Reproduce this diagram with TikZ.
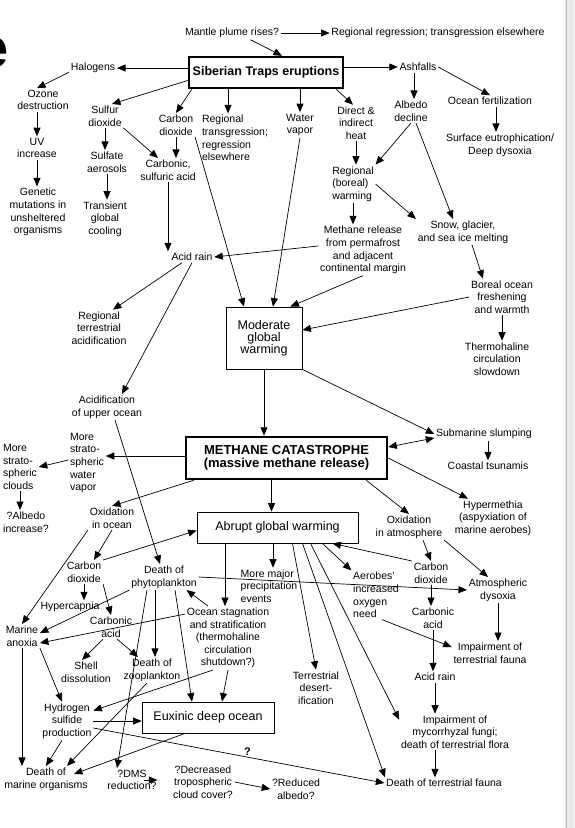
\documentclass[tikz,border=0pt]{standalone}
\usepackage{fontspec}
\setmainfont{Liberation Sans}
\usetikzlibrary{arrows.meta}
\begin{document}
\begin{tikzpicture}[x=1pt, y=-1pt, >={Triangle[length=8.5pt,width=7pt]}, line width=0.7pt,
  every node/.style={font=\fontsize{10.5}{12.6}\selectfont, align=center, inner sep=1.5pt},
  lft/.style={align=left},
  stepbox/.style={draw, line width=0.8pt, font=\fontsize{12.5}{12}\selectfont, inner sep=2pt},
  keybox/.style={draw, line width=2.5pt, font=\fontsize{12.5}{13}\selectfont\bfseries, inner sep=2pt}]
\useasboundingbox (0,0) rectangle (574,828);
\fill[white] (0,0) rectangle (574,828);
\fill[gray!18] (565,0) rectangle (574,828);
\draw[gray!50, line width=1pt] (566,0) -- (566,828);
\node[anchor=east, inner sep=0pt, font=\fontsize{56}{56}\selectfont\bfseries] (title) at (9,53) {e};
\node (mantle) at (232,33) {Mantle plume rises?};
\node (regress) at (438,33) {Regional regression; transgression elsewhere};
\node[keybox, minimum width=154pt, minimum height=31pt] (sib) at (266,72.5) {Siberian Traps eruptions};
\node (halo) at (93,68) {Halogens};
\node (ozone) at (43,100) {Ozone\\destruction};
\node (uv) at (37,148) {UV\\increase};
\node (genetic) at (38,212) {Genetic\\mutations in\\unsheltered\\organisms};
\node (so2) at (105,116) {Sulfur\\dioxide};
\node (sulfate) at (107,162) {Sulfate\\aerosols};
\node (cooling) at (105,219) {Transient\\global\\cooling};
\node (co2) at (176,125) {Carbon\\dioxide};
\node[lft] (transg) at (235,138) {Regional\\transgression;\\regression\\elsewhere};
\node (water) at (300,125) {Water\\vapor};
\node (heat) at (356,123) {Direct \&\\indirect\\heat};
\node (ash) at (418,67) {Ashfalls};
\node (albedo) at (411,111) {Albedo\\decline};
\node (fert) at (490,101) {Ocean fertilization};
\node (eutro) at (500,145) {Surface eutrophication/\\Deep dysoxia};
\node[lft] (boreal) at (353,184) {Regional\\(boreal)\\warming};
\node (snow) at (463,232) {Snow, glacier,\\and sea ice melting};
\node (carbsulf) at (168,170) {Carbonic,\\sulfuric acid};
\node (methrel) at (363,250) {Methane release\\from permafrost\\and adjacent\\continental margin};
\node (boreo) at (502,297) {Boreal ocean\\freshening\\and warmth};
\node (thermo) at (497,359) {Thermohaline\\circulation\\slowdown};
\node (acid) at (192,257) {Acid rain};
\node (terracid) at (99,328) {Regional\\terrestrial\\acidification};
\node[stepbox, minimum width=76pt, minimum height=62pt] (moderate) at (264,338) {Moderate\\global\\warming};
\node (upper) at (107,407) {Acidification\\of upper ocean};
\node[keybox, minimum width=201pt, minimum height=42pt, font=\fontsize{13}{13}\selectfont\bfseries] (methane) at (286.5,458) {METHANE CATASTROPHE\\(massive methane release)};
\node (slump) at (484,434) {Submarine slumping};
\node (tsunami) at (488,466) {Coastal tsunamis};
\node[lft] (strwater) at (87,463) {More\\strato-\\spheric\\water\\vapor};
\node[lft] (strcloud) at (20,467) {More\\strato-\\spheric\\clouds};
\node (albinc) at (26,522) {?Albedo\\increase?};
\node (hyper) at (493,518) {Hypermethia\\(aspyxiation of\\marine aerobes)};
\node (oxatm) at (409,527) {Oxidation\\in atmosphere};
\node (oxocean) at (112,518) {Oxidation\\in ocean};
\node[stepbox, minimum width=161pt, minimum height=31pt] (abrupt) at (277.5,527.5) {Abrupt global warming};
\node (co2oc) at (84,572) {Carbon\\dioxide};
\node (phyto) at (164,577) {Death of\\phytoplankton};
\node[lft] (precip) at (269,586) {More major\\precipitation\\events};
\node[lft] (aerobes) at (376,595) {Aerobes'\\increased\\oxygen\\need};
\node (co2atm) at (431,573) {Carbon\\dioxide};
\node (dysoxia) at (498,590) {Atmospheric\\dysoxia};
\node (hypercap) at (70,607) {Hypercapnia};
\node (carbac) at (111,627) {Carbonic\\acid};
\node (stag) at (228,638) {Ocean stagnation\\and stratification\\(thermohaline\\circulation\\shutdown?)};
\node (anoxia) at (22,636) {Marine\\anoxia};
\node (carbatm) at (433,618) {Carbonic\\acid};
\node (impfauna) at (490,653) {Impairment of\\terrestrial fauna};
\node (shell) at (86,672) {Shell\\dissolution};
\node (zoo) at (152,670) {Death of\\zooplankton};
\node (desert) at (316,688) {Terrestrial\\desert-\\ification};
\node (acidatm) at (435,677) {Acid rain};
\node (h2s) at (67,721) {Hydrogen\\sulfide\\production};
\node[stepbox, minimum width=132pt, minimum height=31pt] (euxinic) at (208,717.5) {Euxinic deep ocean};
\node (mycor) at (455,732) {Impairment of\\mycorrhyzal fungi;\\death of terrestrial flora};
\node (deathmar) at (46,779) {Death of\\marine organisms};
\node (dms) at (132,780) {?DMS\\reduction?};
\node (cloud) at (203,782) {?Decreased\\tropospheric\\cloud cover?};
\node (redalb) at (296,789) {?Reduced\\albedo?};
\node (deathter) at (444,783) {Death of terrestrial fauna};
\draw[->] (mantle.-20) -- ([xshift=16pt]sib.north);
\draw[->] (mantle.east) -- (regress.west);
\draw[->] (sib.west |- halo) -- (halo.east);
\draw[->] (halo.190) -- ([xshift=-6pt]ozone.north);
\draw[->] (uv.north |- ozone.south) -- (uv.north);
\draw[->] (uv.south) -- (uv.south |- genetic.north);
\draw[->] ([yshift=-8pt]sib.west) -- (so2.60);
\draw[->] (so2.south) -- (so2.south |- sulfate.north);
\draw[->] (sulfate.south) -- (sulfate.south |- cooling.north);
\draw[->] ([xshift=4pt]sib.south west) -- (co2.north);
\draw[->] ([xshift=-38pt]sib.south) -- ([xshift=-38pt]sib.south |- transg.north);
\draw[->] (water.north |- sib.south) -- (water.north);
\draw[->] ([xshift=-8pt]sib.south east) -- ([xshift=-3pt]heat.north);
\draw[->] (sib.east |- ash) -- (ash.west);
\draw[->] ([xshift=-4pt]ash.south) -- ([xshift=-4pt]ash.south |- albedo.north);
\draw[->] (ash.east) -- (fert.north);
\draw[->] ([xshift=6pt]fert.south) -- ([xshift=6pt]fert.south |- eutro.north);
\draw[->] (co2.south) -- (co2.south |- carbsulf.north);
\draw[->] (so2.south east) -- ([xshift=-10pt]carbsulf.north);
\draw[->] (carbsulf.south) -- (carbsulf.south |- acid.north);
\draw[->] (co2.south east) -- ([xshift=-20pt]moderate.north);
\draw[->] (water.south) -- ([xshift=9pt]moderate.north);
\draw[->] (heat.south) -- (heat.south |- boreal.north);
\draw[->] (albedo.south) -- (boreal.north east);
\draw[->] ([xshift=5pt]albedo.south) -- ([xshift=-10pt]snow.north);
\draw[->] (boreal.east) -- (snow.north west);
\draw[->] (boreal.south) -- (boreal.south |- methrel.north);
\draw[->] ([yshift=4pt]methrel.west) -- (acid.east);
\draw[->] (methrel.south) -- ([xshift=-12pt]moderate.north east);
\draw[->] ([xshift=9pt]snow.south) -- ([xshift=-19pt]boreo.north);
\draw[->] (boreo.west) -- ([yshift=8pt]moderate.east);
\draw[->] (boreo.south) -- (boreo.south |- thermo.north);
\draw[->] ([xshift=-10pt]acid.south) -- ([xshift=14pt]terracid.north);
\draw[->] (acid.south) -- ([xshift=15pt]upper.north);
\draw[->] (moderate.south) -- (moderate.south |- methane.north);
\draw[->] (moderate.south east) -- (slump.west);
\draw[<->] ([yshift=11pt]methane.east) -- ([yshift=-4pt]slump.west);
\draw[->] (tsunami.north |- slump.south) -- (tsunami.north);
\draw[->] (methane.east) -- ([xshift=-25pt]hyper.north);
\draw[->] ([xshift=-22pt]methane.south east) -- (oxatm.north);
\draw[->] ([xshift=-6pt]abrupt.north |- methane.south) -- ([xshift=-6pt]abrupt.north);
\draw[->] ([yshift=2pt]methane.west) -- ([yshift=2pt]methane.west -| strwater.east);
\draw[->] ([yshift=3pt]strwater.west) -- (strcloud.east);
\draw[->] (strcloud.south) -- (strcloud.south |- albinc.north);
\draw[->] ([xshift=9pt]methane.south west) -- (oxocean.north);
\draw[->] (oxocean.south west) -- (anoxia.north);
\draw[->] (oxocean.south) -- ([xshift=10pt]co2oc.north);
\draw[->] (co2oc.north east) -- ([yshift=-3pt]abrupt.west);
\draw[->] ([xshift=8pt]upper.south) -- ([xshift=-4pt]phyto.north);
\draw[->] ([xshift=-3pt]stag.north |- abrupt.south) -- ([xshift=-3pt]stag.north);
\draw[->] ([xshift=4pt]precip.north |- abrupt.south) -- ([xshift=4pt]precip.north);
\draw[->] (phyto.east) -- (dysoxia.west);
\draw[->] (phyto.south west) -- ([yshift=3pt]anoxia.east);
\draw[->] ([yshift=-8pt]stag.north west) -- ([yshift=-7pt]anoxia.east);
\draw[->] ([xshift=-9pt]phyto.south) -- ([xshift=-9pt]phyto.south |- zoo.north);
\draw[->] ([xshift=-17pt]phyto.south) -- ([xshift=-15pt]dms.north);
\draw[->] ([xshift=11pt]phyto.south) -- ([xshift=-16pt]euxinic.north);
\draw[->] ([xshift=-20pt]stag.north) -- ([xshift=-12pt]phyto.south east);
\draw[->] (stag.south) -- ([xshift=14pt]euxinic.north);
\draw[->] ([xshift=-15pt]stag.south) -- ([yshift=-9pt]h2s.north east);
\draw[->] (co2oc.south) -- (co2oc.south |- hypercap.north);
\draw[->] (co2oc.south east) -- (carbac.north);
\draw[->] ([xshift=-8pt]carbac.south) -- ([xshift=-4pt]shell.north);
\draw[->] ([xshift=6pt]carbac.south) -- ([xshift=-14pt]zoo.north);
\draw[->] ([xshift=-5pt]zoo.south) -- ([xshift=21pt]deathmar.north);
\draw[->] ([xshift=-23pt]euxinic.south) -- ([xshift=28pt,yshift=-8pt]deathmar.north);
\draw[->] ([xshift=-5pt]h2s.south) -- (deathmar.north);
\draw[->] (anoxia.south) -- (anoxia.south |- deathmar.north);
\draw[->] (anoxia.south east) -- ([xshift=-5pt]h2s.north);
\draw[->] (h2s.east) -- (h2s.east -| euxinic.west);
\draw[->] ([yshift=-7pt]h2s.east) -- node[pos=.53, above, font=\fontsize{11}{12}\selectfont\bfseries] (qmark) {?} (deathter.west);
\draw[->] ([xshift=-14pt]dms.east) -- ([xshift=-14pt]dms.east -| cloud.west);
\draw[->] (cloud.east) -- (redalb.west);
\draw[->] ([xshift=14pt]oxatm.south) -- (co2atm.north);
\draw[->] (oxatm.south east) -- ([xshift=-10pt]dysoxia.north);
\draw[->] (co2atm.north west) -- ([xshift=-26pt]abrupt.south east);
\draw[->] ([xshift=-36pt]abrupt.south east) -- (aerobes.north west);
\draw[->] (co2atm.south) -- (co2atm.south |- carbatm.north);
\draw[->] ([xshift=6pt]aerobes.south) -- ([yshift=6pt]impfauna.west);
\draw[->] (dysoxia.south) -- (dysoxia.south |- impfauna.north);
\draw[->] (carbatm.south) -- (carbatm.south |- acidatm.north);
\draw[->] (acidatm.south) -- (acidatm.south |- mycor.north);
\draw[->] (acidatm.south |- mycor.south) -- (acidatm.south |- deathter.north);
\draw[->] ([xshift=15pt]abrupt.south) -- (desert.north);
\draw[->] ([xshift=25pt]abrupt.south) -- ([xshift=-59pt]deathter.north);
\draw[->] ([xshift=33pt]abrupt.south) -- ([yshift=-6pt]mycor.north west);
\end{tikzpicture}
\end{document}
